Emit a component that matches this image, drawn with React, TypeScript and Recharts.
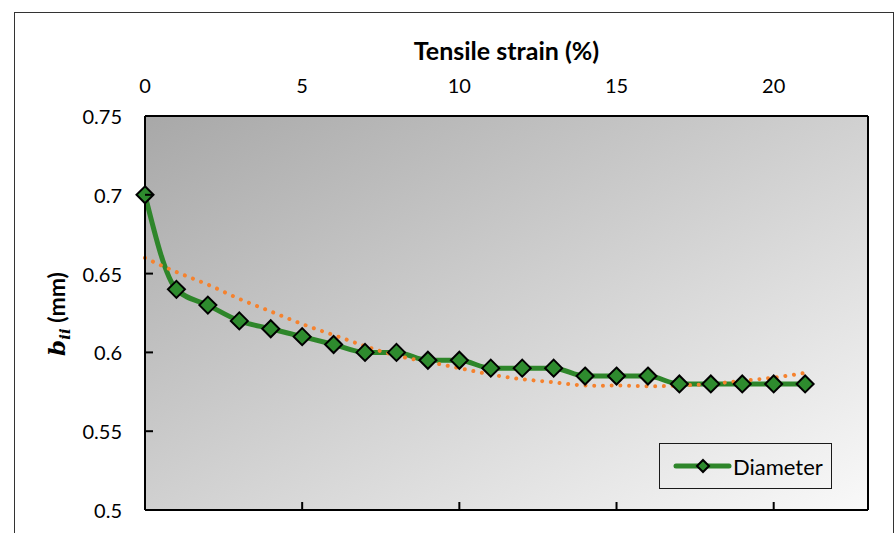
import {
  CartesianGrid,
  Label,
  Legend,
  Line,
  LineChart,
  XAxis,
  YAxis,
} from "recharts";

// values
const strain = [0, 1, 2, 3, 4, 5, 6, 7, 8, 9, 10, 11, 12, 13, 14, 15, 16, 17, 18, 19, 20, 21];
const diameter = [
  0.7, 0.64, 0.63, 0.62, 0.615, 0.61, 0.605, 0.6, 0.6, 0.595, 0.595, 0.59, 0.59, 0.59,
  0.585, 0.585, 0.585, 0.58, 0.58, 0.58, 0.58, 0.58,
];
// dotted trend line
const trend = [
  0.66, 0.651, 0.643, 0.634, 0.626, 0.618, 0.611, 0.604, 0.598, 0.594, 0.59, 0.586, 0.583,
  0.581, 0.579, 0.579, 0.5785, 0.579, 0.58, 0.582, 0.584, 0.587,
];
const xTicks = [0, 5, 10, 15, 20];
const yTicks = [0.5, 0.55, 0.6, 0.65, 0.7, 0.75];

const data = strain.map((s, i) => ({ strain: s, diameter: diameter[i], trend: trend[i] }));

const FONT = "Lato, 'Open Sans', sans-serif";
const GREEN_LINE = "#2E862A";
const GREEN_FILL = "#2E8B2E";

function Diamond(props: any) {
  const { cx, cy, index } = props;
  if (cx == null || cy == null) return null;
  const r = 8.5;
  return (
    <path
      key={`d-${index}`}
      d={`M${cx},${cy - r} L${cx + r},${cy} L${cx},${cy + r} L${cx - r},${cy} Z`}
      fill={GREEN_FILL}
      stroke="#000"
      strokeWidth={2}
    />
  );
}

function YTick(props: any) {
  const { x, y, payload } = props;
  return (
    <g>
      <text
        x={x}
        y={y}
        textAnchor="end"
        dominantBaseline="central"
        fontFamily={FONT}
        fontSize={20}
        fill="#000"
      >
        {payload.value}
      </text>
      <line x1={x + 23} x2={x + 31} y1={y} y2={y} stroke="#000" strokeWidth={2} />
    </g>
  );
}

function BottomTick(props: any) {
  const { x, y } = props;
  return <line x1={x} x2={x} y1={y} y2={y - 8} stroke="#000" strokeWidth={2} />;
}

function YTitle() {
  return (
    <text
      transform="translate(65,314) rotate(-90)"
      textAnchor="middle"
      fontFamily={FONT}
      fontSize={23}
      fontWeight="bold"
      fill="#000"
    >
      <tspan fontFamily="'DejaVu Serif', serif" fontStyle="italic">b</tspan>
      <tspan fontFamily="'DejaVu Serif', serif" fontStyle="italic" fontSize={15} dy={5}>
        ii
      </tspan>
      <tspan dy={-5}> (mm)</tspan>
    </text>
  );
}

function LegendBox() {
  return (
    <div
      style={{
        width: 173,
        height: 46,
        boxSizing: "border-box",
        border: "1.5px solid #1a1a1a",
        display: "flex",
        alignItems: "center",
        fontFamily: FONT,
        fontSize: 22,
        color: "#000",
      }}
    >
      <svg width={60} height={24} style={{ marginLeft: 13, flex: "none" }}>
        <line x1={3} x2={56} y1={12} y2={12} stroke={GREEN_LINE} strokeWidth={5} strokeLinecap="round" />
        <path d="M30,6 L36,12 L30,18 L24,12 Z" fill={GREEN_FILL} stroke="#000" strokeWidth={2} />
      </svg>
      <span style={{ marginLeft: 0 }}>Diameter</span>
    </div>
  );
}

export default function App() {
  return (
    <div style={{ position: "absolute", left: 0, top: 0, width: 894, height: 533, overflow: "hidden", background: "#fff" }}>
      <div
        style={{
          position: "absolute",
          left: 14,
          top: 12,
          width: 880,
          height: 560,
          border: "1.5px solid #333",
          boxSizing: "border-box",
        }}
      />
      <div style={{ position: "absolute", left: 0, top: 0 }}>
        <LineChart width={894} height={533} data={data} margin={{ top: 86, right: 25, bottom: 22, left: 85 }}>
          <defs>
            <linearGradient id="plotBg" x1="0" y1="0" x2="1" y2="1">
              <stop offset="0%" stopColor="#A8A8A8" />
              <stop offset="100%" stopColor="#F9F9F9" />
            </linearGradient>
          </defs>
          <CartesianGrid xAxisId="top" horizontal={false} vertical={false} fill="url(#plotBg)" />
          <XAxis
            xAxisId="top"
            orientation="top"
            type="number"
            dataKey="strain"
            domain={[0, 23]}
            ticks={xTicks}
            height={30}
            axisLine={{ stroke: "#000", strokeWidth: 2 }}
            tickLine={false}
            tickSize={0}
            tickMargin={23}
            tick={{ fontFamily: FONT, fontSize: 20, fill: "#000" }}
          >
            <Label
              value="Tensile strain (%)"
              position="top"
              offset={26}
              style={{ fontFamily: FONT, fontSize: 25, fontWeight: "bold", fill: "#000" }}
            />
          </XAxis>
          <XAxis
            xAxisId="bottom"
            orientation="bottom"
            type="number"
            dataKey="strain"
            domain={[0, 23]}
            ticks={xTicks}
            height={1}
            axisLine={{ stroke: "#000", strokeWidth: 2 }}
            tickLine={false}
            tickSize={0}
            tickMargin={0}
            tick={<BottomTick />}
          />
          <YAxis
            yAxisId="left"
            domain={[0.5, 0.75]}
            ticks={yTicks}
            width={60}
            axisLine={{ stroke: "#000", strokeWidth: 2 }}
            tickLine={false}
            tickSize={0}
            tickMargin={23}
            tick={<YTick />}
          >
            <Label content={<YTitle />} />
          </YAxis>
          <YAxis
            yAxisId="right"
            orientation="right"
            domain={[0.5, 0.75]}
            width={1}
            axisLine={{ stroke: "#000", strokeWidth: 2 }}
            tick={false}
            tickLine={false}
          />
          <Line
            xAxisId="top"
            yAxisId="left"
            type="monotone"
            dataKey="diameter"
            name="Diameter"
            stroke={GREEN_LINE}
            strokeWidth={5}
            dot={<Diamond />}
            activeDot={false}
            isAnimationActive={false}
          />
          <Line
            xAxisId="top"
            yAxisId="left"
            type="natural"
            dataKey="trend"
            stroke="#F5822E"
            strokeWidth={4}
            strokeDasharray="0.01 8.7"
            strokeLinecap="round"
            dot={false}
            activeDot={false}
            legendType="none"
            isAnimationActive={false}
          />
          <Legend
            layout="horizontal"
            verticalAlign="middle"
            align="center"
            content={<LegendBox />}
            wrapperStyle={{ position: "absolute", left: 659, top: 443, width: 173, bottom: "auto", right: "auto" }}
          />
        </LineChart>
      </div>
    </div>
  );
}
